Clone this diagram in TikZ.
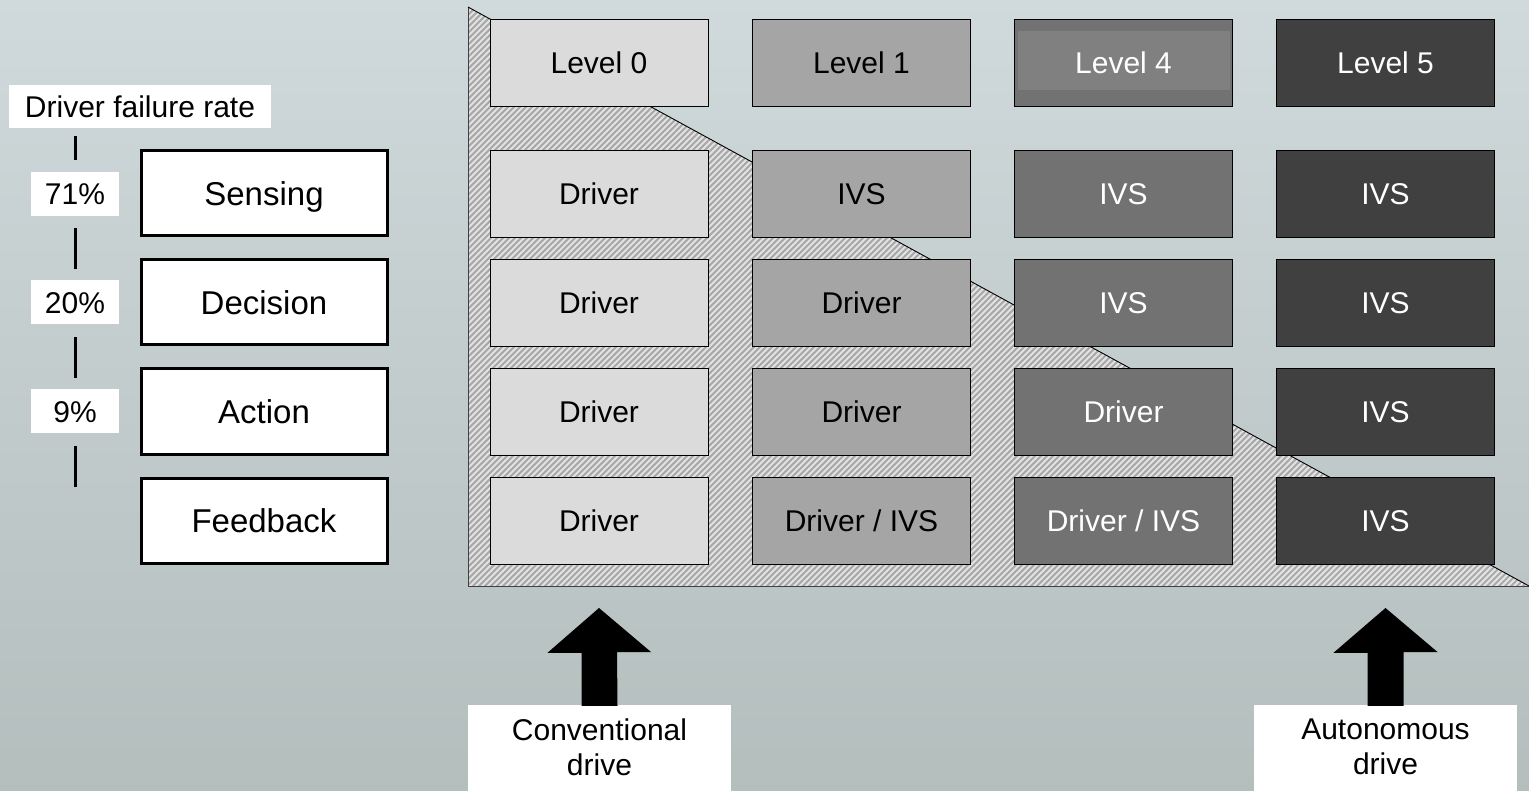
\documentclass[tikz,border=0pt]{standalone}
\usepackage{fontspec}
\setmainfont{Liberation Sans}
\usetikzlibrary{calc}
\definecolor{bgtop}{RGB}{208,217,219}
\definecolor{bgbot}{RGB}{180,190,189}
\definecolor{hatchbase}{RGB}{168,168,168}
\definecolor{hatchline}{RGB}{226,226,226}
\definecolor{lvA}{RGB}{219,219,219}
\definecolor{lvB}{RGB}{165,165,165}
\definecolor{lvC}{RGB}{114,114,114}
\definecolor{lvCin}{RGB}{128,128,128}
\definecolor{lvD}{RGB}{64,64,64}
\tikzset{
  txt/.style={font=\fontsize{30}{35}\selectfont, text height=21.5pt, text depth=0pt},
  bigtxt/.style={font=\fontsize{33}{38}\selectfont, text height=23.6pt, text depth=0pt},
  cell/.style={txt, draw=black, line width=0.9pt, minimum width=218pt, minimum height=87pt,
    inner sep=0pt},
  colA/.style={cell, fill=lvA, text=black},
  colB/.style={cell, fill=lvB, text=black},
  colC/.style={cell, fill=lvC, text=white},
  colD/.style={cell, fill=lvD, text=white},
  stage/.style={bigtxt, draw=black, fill=white, line width=3pt, minimum width=246pt,
    minimum height=85pt, inner sep=0pt},
  rate/.style={txt, fill=white, inner sep=0pt, minimum width=88pt, minimum height=44pt},
  tick/.style={line width=3pt, black},
  drivebox/.style={fill=white, inner sep=0pt, minimum width=263pt, minimum height=86pt},
  drivetxt/.style={align=center, font=\fontsize{30}{35}\selectfont},
  blockarrow/.style={fill=black}
}
\begin{document}
\begin{tikzpicture}[x=1pt, y=-1pt]
% background
\shade[top color=bgtop, bottom color=bgbot] (0,0) rectangle (1529,791);
\useasboundingbox (0,0) rectangle (1529,791);

% hatched triangle behind the grid
\begin{scope}
  \clip (468,7) -- (468,586) -- (1529,586) -- cycle;
  \fill[hatchbase] (468,7) rectangle (1529,586);
  \foreach \i in {0,...,285} {
    \draw[hatchline, line width=2.1pt] ({468-600+\i*6},600) -- ++(620,-620);
  }
\end{scope}
\draw[black!75, line width=0.9pt] (1529,586) -- (468,586) -- (468,7);
\draw[black, line width=0.9pt] (468,7) -- (1529,586);

% level headings
\node[colA] (l0) at (599,62.5) {Level 0};
\node[colB] (l1) at (861.5,62.5) {Level 1};
\node[colC] (l4) at (1123.5,62.5) {};
\fill[lvCin] (1018,31) rectangle (1230,90);
\node[txt, text=white] at (l4.center) {Level 4};
\node[colD] (l5) at (1385.5,62.5) {Level 5};

% row 1
\node[colA] (a1) at (599,193.5) {Driver};
\node[colB] (b1) at (861.5,193.5) {IVS};
\node[colC] (c1) at (1123.5,193.5) {IVS};
\node[colD] (d1) at (1385.5,193.5) {IVS};
% row 2
\node[colA] (a2) at (599,302.5) {Driver};
\node[colB] (b2) at (861.5,302.5) {Driver};
\node[colC] (c2) at (1123.5,302.5) {IVS};
\node[colD] (d2) at (1385.5,302.5) {IVS};
% row 3
\node[colA] (a3) at (599,411.5) {Driver};
\node[colB] (b3) at (861.5,411.5) {Driver};
\node[colC] (c3) at (1123.5,411.5) {Driver};
\node[colD] (d3) at (1385.5,411.5) {IVS};
% row 4
\node[colA] (a4) at (599,520.5) {Driver};
\node[colB] (b4) at (861.5,520.5) {Driver / IVS};
\node[colC] (c4) at (1123.5,520.5) {Driver / IVS};
\node[colD] (d4) at (1385.5,520.5) {IVS};

% stages of the driving task
\node[stage] (s1) at (264,193.5) {Sensing};
\node[stage] (s2) at (264,302.5) {Decision};
\node[stage] (s3) at (264,411.5) {Action};
\node[stage] (s4) at (264,520.5) {Feedback};

% failure rates
\node[txt, fill=white, inner sep=0pt, minimum width=262pt, minimum height=43pt]
  (dfr) at (140,106.5) {Driver failure rate};
\node[rate] (r1) at (75,194) {71\%};
\node[rate] (r2) at (75,302.5) {20\%};
\node[rate] (r3) at (75,411.5) {9\%};
\coordinate (tend) at (75,487);
\draw[tick] (75,136) -- (75,160);
\draw[tick] (75,228) -- (75,269);
\draw[tick] (75,337) -- (75,378);
\draw[tick] (75,446) -- (tend);

% drive modes
\node[drivebox] (conv) at (599.5,748) {};
\node[drivebox] (auto) at (1385.5,748) {};
\node[drivetxt] at (599.5,747) {Conventional\\drive};
\node[drivetxt] at (1385.5,747) {Autonomous\\drive};
\fill[blockarrow] ($(conv.north)+(-18,1)$) -- ++(0,-53) -- ++(-34,0) -- (599,608) -- (651,652) -- ++(-34,0) -- ($(conv.north)+(18,1)$) -- cycle;
\fill[blockarrow] ($(auto.north)+(-18,1)$) -- ++(0,-53) -- ++(-34,0) -- (1385.5,608) -- (1437.5,652) -- ++(-34,0) -- ($(auto.north)+(18,1)$) -- cycle;
\end{tikzpicture}
\end{document}
